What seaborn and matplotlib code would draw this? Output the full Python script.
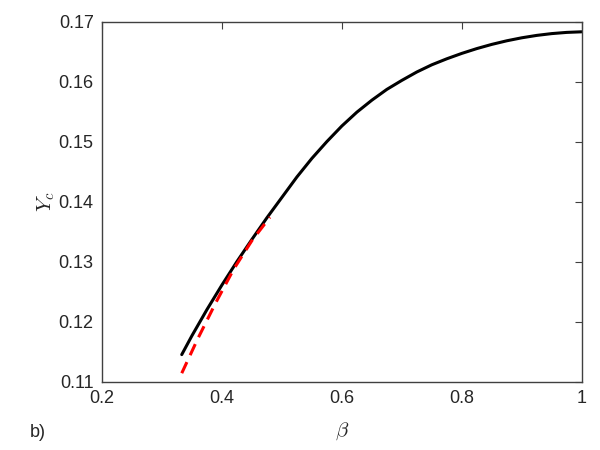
import numpy as np
import pandas as pd
import matplotlib
matplotlib.use("Agg")
import matplotlib.pyplot as plt
import seaborn as sns

# ========== DATA ==========
beta_full = [0.333, 0.35, 0.375, 0.40, 0.425, 0.45, 0.475, 0.50, 0.525, 0.55,
             0.575, 0.60, 0.625, 0.65, 0.675, 0.70, 0.725, 0.75, 0.775, 0.80,
             0.825, 0.85, 0.875, 0.90, 0.925, 0.95, 0.975, 1.00]
yc_full = [0.1145, 0.11765, 0.1220, 0.1261, 0.1300, 0.1337, 0.1373, 0.1407, 0.1441, 0.1472,
           0.1500, 0.1526, 0.1549, 0.1569, 0.1587, 0.1602, 0.1616, 0.1628, 0.1638, 0.1647,
           0.1655, 0.1662, 0.1668, 0.1673, 0.1677, 0.1680, 0.1682, 0.1683]

beta_approx = [0.333, 0.36, 0.39, 0.42, 0.45, 0.48]
yc_approx = [0.1114, 0.1172, 0.1232, 0.1288, 0.1335, 0.1374]

x_ticks = [0.2, 0.4, 0.6, 0.8, 1.0]
x_tick_labels = ["0.2", "0.4", "0.6", "0.8", "1"]
y_ticks = [0.11, 0.12, 0.13, 0.14, 0.15, 0.16, 0.17]
y_tick_labels = ["0.11", "0.12", "0.13", "0.14", "0.15", "0.16", "0.17"]

df_full = pd.DataFrame({"beta": beta_full, "Yc": yc_full})
df_approx = pd.DataFrame({"beta": beta_approx, "Yc": yc_approx})

# ========== STYLE ==========
sns.set_style("white")
plt.rcParams["font.family"] = ["Liberation Sans", "DejaVu Sans"]
plt.rcParams["mathtext.fontset"] = "cm"

fig = plt.figure(figsize=(6, 4.5), dpi=100)
ax = fig.add_axes([0.17, 0.152, 0.7995, 0.8])

# ========== PLOT ==========
sns.lineplot(data=df_full, x="beta", y="Yc", ax=ax, color="black", linewidth=2.2, sort=False)
sns.lineplot(data=df_approx, x="beta", y="Yc", ax=ax, color="#ff0000", linewidth=2.2,
             sort=False, linestyle=(0, (4, 2.5)))

ax.set_xlim(0.2, 1.0)
ax.set_ylim(0.11, 0.17)
ax.set_xticks(x_ticks)
ax.set_xticklabels(x_tick_labels)
ax.set_yticks(y_ticks)
ax.set_yticklabels(y_tick_labels)

ax.tick_params(direction="in", length=5, width=0.8, colors="#404040",
               labelcolor="#262626", labelsize=13, top=True, right=True, pad=6)
for s in ax.spines.values():
    s.set_color("#404040")
    s.set_linewidth(1.0)

ax.set_xlabel(r"$\beta$", fontsize=15, color="#262626", labelpad=10)
ax.set_ylabel(r"$Y_c$", fontsize=15, color="#262626", labelpad=1)

fig.text(0.05, 0.02, "b)", fontsize=13, color="#262626", ha="left", va="bottom")

fig.savefig("out.png", dpi=100)
